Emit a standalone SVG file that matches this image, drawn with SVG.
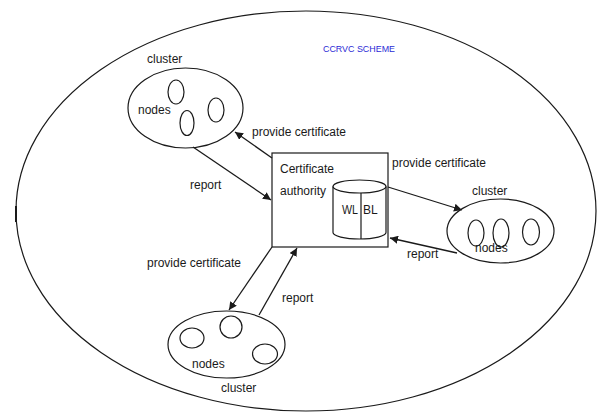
<svg xmlns="http://www.w3.org/2000/svg" width="597" height="412" viewBox="0 0 597 412">
<style>
.s{fill:none;stroke:#1a1a1a;stroke-width:1.2}
.t{font-family:"Liberation Sans",Arial,sans-serif;font-size:12px;fill:#1a1a1a}
.c{stroke:#1a1a1a;stroke-width:1.3;fill:none;marker-end:url(#ah)}
</style>
<defs>
<marker id="ah" viewBox="0 0 10 10" refX="10" refY="5" markerWidth="8" markerHeight="8" markerUnits="userSpaceOnUse" orient="auto">
<path d="M0,0 L10,5 L0,10 z" fill="#1a1a1a"/>
</marker>
</defs>
<rect width="597" height="412" fill="#fff"/>
<g id="scheme">
<ellipse class="s" cx="306" cy="211" rx="290" ry="200"/>
<line x1="16" y1="206" x2="16" y2="222" stroke="#1a1a1a" stroke-width="2"/>
<text x="323" y="52" font-family="Liberation Sans,Arial,sans-serif" font-size="9.5" fill="#2b2bd6" textLength="72" lengthAdjust="spacingAndGlyphs">CCRVC SCHEME</text>
</g>
<g id="cluster-top">
<ellipse class="s" cx="185.5" cy="108" rx="57.5" ry="40"/>
<ellipse class="s" cx="176" cy="92" rx="8" ry="12"/>
<ellipse class="s" cx="187" cy="123" rx="7" ry="12.5"/>
<ellipse class="s" cx="216" cy="110" rx="8" ry="12"/>
<text class="t" x="147" y="63">cluster</text>
<text class="t" x="138" y="114">nodes</text>
</g>
<g id="ca">
<rect class="s" x="272" y="153" width="116" height="94"/>
<text class="t" x="280" y="173">Certificate</text>
<text class="t" x="280" y="195">authority</text>
<path class="s" d="M333,186.5 V232.5 A26.5,6.5 0 0 0 386,232.5 V186.5"/>
<ellipse class="s" cx="359.5" cy="186.5" rx="26.5" ry="6.5"/>
<line class="s" x1="361" y1="193" x2="361" y2="239"/>
<text class="t" x="342" y="214" textLength="16" lengthAdjust="spacingAndGlyphs">WL</text>
<text class="t" x="363" y="214">BL</text>
</g>
<g id="cluster-right">
<ellipse class="s" cx="500.5" cy="231" rx="53.5" ry="32"/>
<ellipse class="s" cx="476" cy="233" rx="8" ry="13"/>
<ellipse class="s" cx="501" cy="233" rx="8" ry="14"/>
<ellipse class="s" cx="531" cy="232" rx="8.5" ry="13"/>
<text class="t" x="472" y="195">cluster</text>
<text class="t" x="475" y="252">nodes</text>
</g>
<g id="cluster-bottom">
<ellipse class="s" cx="226.5" cy="344.5" rx="58.5" ry="33.5"/>
<ellipse class="s" cx="192" cy="338" rx="12" ry="10"/>
<ellipse class="s" cx="231" cy="327" rx="11" ry="11"/>
<ellipse class="s" cx="265" cy="354" rx="12.5" ry="10"/>
<text class="t" x="192" y="368">nodes</text>
<text class="t" x="221" y="392">cluster</text>
</g>
<g id="connectors">
<line class="c" x1="272" y1="158" x2="235" y2="132"/>
<text class="t" x="252" y="136">provide certificate</text>
<line class="c" x1="193" y1="147" x2="271" y2="200"/>
<text class="t" x="190" y="189">report</text>
<line class="c" x1="388" y1="187" x2="462" y2="210"/>
<text class="t" x="392" y="167">provide certificate</text>
<line class="c" x1="457" y1="253" x2="390" y2="238"/>
<text class="t" x="407" y="258">report</text>
<line class="c" x1="272" y1="247" x2="229" y2="310"/>
<text class="t" x="147" y="267">provide certificate</text>
<line class="c" x1="259" y1="315" x2="297" y2="248"/>
<text class="t" x="282" y="302">report</text>
</g>
</svg>
